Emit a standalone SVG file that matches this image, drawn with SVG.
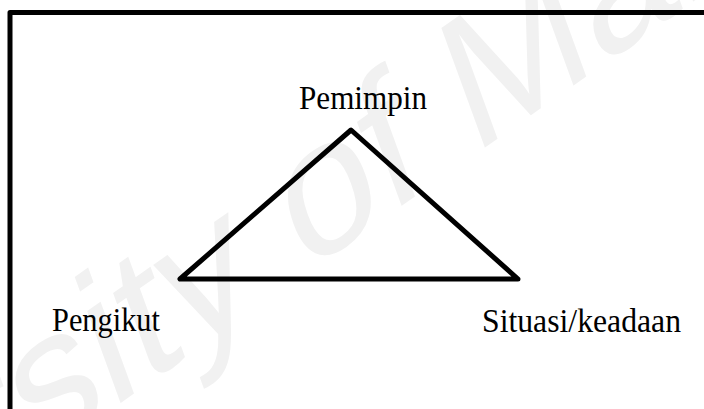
<svg xmlns="http://www.w3.org/2000/svg" width="704" height="409" viewBox="0 0 704 409">
<style>
.lbl{font-family:"Liberation Serif","Times New Roman",serif;font-size:33px;fill:#000}
.wm{font-family:"Liberation Sans",Arial,sans-serif;font-size:185px;fill:#f1f1f1}
.edge{fill:none;stroke:#000;stroke-width:5;stroke-linejoin:round;stroke-linecap:round}
</style>
<rect width="704" height="409" fill="#fff"/>
<text class="wm" transform="matrix(0.819 -0.574 0.342 0.940 -403 770)">University of Malaya</text>
<rect x="10" y="12.5" width="760" height="440" fill="none" stroke="#000" stroke-width="5" stroke-linejoin="round"/>
<g id="connectors">
<polygon class="edge" points="351,130 180,279 518,279"/>
</g>
<g id="pemimpin"><text class="lbl" x="299" y="109" textLength="128" lengthAdjust="spacingAndGlyphs">Pemimpin</text></g>
<g id="pengikut"><text class="lbl" x="52" y="331" textLength="108" lengthAdjust="spacingAndGlyphs">Pengikut</text></g>
<g id="situasi"><text class="lbl" x="482" y="332" textLength="199" lengthAdjust="spacingAndGlyphs">Situasi/keadaan</text></g>
</svg>
